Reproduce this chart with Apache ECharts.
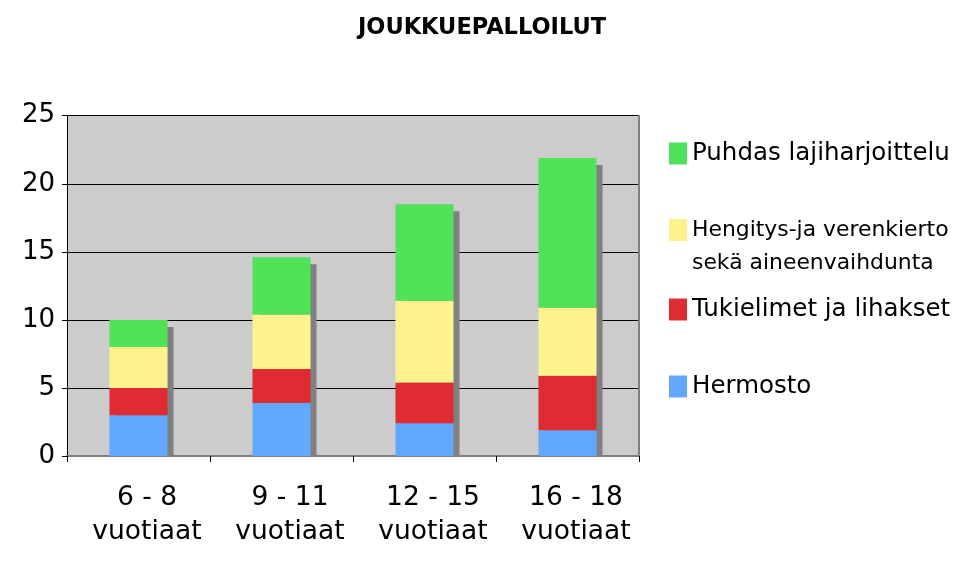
<!DOCTYPE html>
<html>
<head>
<meta charset="utf-8">
<script src="https://cdn.jsdelivr.net/npm/echarts@6/dist/echarts.min.js"></script>
<style>html,body{margin:0;padding:0;background:#fff}#c{width:960px;height:568px}</style>
</head>
<body>
<div id="c"></div>
<script>
const categories = ['6 - 8\nvuotiaat', '9 - 11\nvuotiaat', '12 - 15\nvuotiaat', '16 - 18\nvuotiaat'];
const hermosto = [3, 3.9, 2.4, 1.9];
const tukielimet = [2, 2.5, 3, 4];
const hengitys = [3, 4, 6, 5];
const puhdas = [2, 4.2, 7.1, 11];
const yTicks = [0, 5, 10, 15, 20, 25];
const names = ['Hermosto', 'Tukielimet ja lihakset', 'Hengitys-ja verenkierto\nsekä aineenvaihdunta', 'Puhdas lajiharjoittelu'];
const colors = ['#62A8FF', '#DE2C32', '#FEF28C', '#50E35A'];

const totals = categories.map((c, i) => hermosto[i] + tukielimet[i] + hengitys[i] + puhdas[i]);
const FONT = '"DejaVu Sans", Verdana, sans-serif';
const BARW = 0.406;

const chart = echarts.init(document.getElementById('c'), null, {renderer: 'canvas'});

function legendFor(name, top, size, lh, fmt) {
  const l = {
    show: true, orient: 'vertical', left: 669, top: top, padding: 0,
    itemWidth: 18, itemHeight: 22, itemGap: 0, icon: 'rect',
    data: [name], selectedMode: false,
    textStyle: {fontFamily: FONT, fontSize: size, color: '#000', lineHeight: lh}
  };
  if (fmt) l.formatter = fmt;
  return l;
}

const option = {
  animation: false,
  backgroundColor: '#ffffff',
  title: {
    text: 'JOUKKUEPALLOILUT', left: 477, top: 12, textAlign: 'center',
    textStyle: {fontFamily: FONT, fontSize: 22.5, fontWeight: 'bold', color: '#000'}
  },
  legend: [
    legendFor(names[3], 141, 24.5, 22),
    legendFor(names[2], 180.5, 21.9, 33, function (n) { return '\n' + n; }),
    legendFor(names[1], 297, 24.5, 22),
    legendFor(names[0], 374, 24.5, 22)
  ],
  grid: {left: 67, right: 321, top: 115.7, bottom: 112, show: true, backgroundColor: '#cccccc', borderWidth: 0},
  xAxis: [{
    type: 'category', data: categories, position: 'bottom',
    axisLine: {show: true, lineStyle: {color: '#000', width: 1}},
    axisTick: {show: true, length: 6, lineStyle: {color: '#000'}},
    axisLabel: {fontFamily: FONT, fontSize: 26.5, color: '#000', lineHeight: 34, margin: 25, padding: [0, 0, 0, 17]},
    splitLine: {show: false}
  }, {
    type: 'category', data: categories, position: 'top',
    axisLine: {show: true, lineStyle: {color: '#808080', width: 2}},
    axisTick: {show: false}, axisLabel: {show: false}, splitLine: {show: false}
  }],
  yAxis: [{
    type: 'value', min: yTicks[0], max: yTicks[yTicks.length - 1], interval: 5,
    axisLine: {show: true, lineStyle: {color: '#000', width: 1}},
    axisTick: {show: true, length: 5, lineStyle: {color: '#000'}},
    axisLabel: {fontFamily: FONT, fontSize: 26, color: '#000', margin: 12, padding: [4, 0, 0, 0]},
    splitLine: {show: true, lineStyle: {color: '#000', width: 1}}
  }, {
    type: 'value', min: yTicks[0], max: yTicks[yTicks.length - 1], interval: 5, position: 'right',
    axisLine: {show: true, lineStyle: {color: '#808080', width: 2}},
    axisTick: {show: false}, axisLabel: {show: false}, splitLine: {show: false}
  }],
  series: [
    {
      type: 'custom', name: 'shadow', z: 1,
      data: totals.map((t, i) => [i, t]),
      renderItem: function (params, api) {
        const top = api.coord([api.value(0), api.value(1)]);
        const base = api.coord([api.value(0), 0]);
        const w = api.size([1, 0])[0] * BARW;
        return {
          type: 'rect',
          shape: {x: top[0] - w / 2 + 6, y: top[1] + 7, width: w, height: base[1] - top[1] - 7},
          style: {fill: '#808080'}
        };
      }
    },
    {name: names[0], type: 'bar', stack: 's', data: hermosto, barWidth: (BARW * 100) + '%', itemStyle: {color: colors[0]}, z: 3},
    {name: names[1], type: 'bar', stack: 's', data: tukielimet, barWidth: (BARW * 100) + '%', itemStyle: {color: colors[1]}, z: 3},
    {name: names[2], type: 'bar', stack: 's', data: hengitys, barWidth: (BARW * 100) + '%', itemStyle: {color: colors[2]}, z: 3},
    {name: names[3], type: 'bar', stack: 's', data: puhdas, barWidth: (BARW * 100) + '%', itemStyle: {color: colors[3]}, z: 3}
  ]
};
chart.setOption(option);
</script>
</body>
</html>
